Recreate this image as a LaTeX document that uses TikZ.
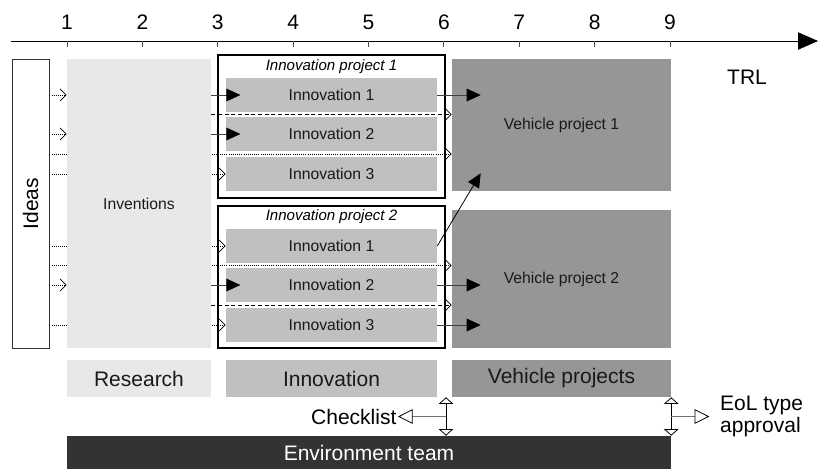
\documentclass[tikz,border=0pt]{standalone}
\usepackage{fontspec}
\setmainfont{Liberation Sans}
\usepackage{tikz}
\usetikzlibrary{arrows.meta, positioning, calc}
\definecolor{resgray}{HTML}{E8E8E8}
\definecolor{inngray}{HTML}{C0C0C0}
\definecolor{vehgray}{HTML}{969696}
\definecolor{envgray}{HTML}{333333}
\tikzset{
  small/.style = {font=\fontsize{11.8}{14}\selectfont},
  big/.style = {font=\fontsize{15.75}{16.5}\selectfont},
  block/.style = {rectangle, inner sep=0pt, align=center, text=black!90},
  innbox/.style = {block, small, fill=inngray,
    minimum width=158.25pt, minimum height=25.5pt},
  vehbox/.style = {block, small, fill=vehgray, minimum width=164.25pt},
  projframe/.style = {rectangle, draw=black, line width=1.5pt,
    minimum width=170.25pt, minimum height=107pt, inner sep=0pt},
  ptitle/.style = {font=\fontsize{11.3}{13}\selectfont\itshape, inner sep=0pt},
  phase/.style = {block, big, minimum height=27.75pt},
  barb/.style = {-{Straight Barb[length=4.5pt, width=9pt]}},
  dotline/.style = {densely dotted, line width=0.6pt, barb},
  dashline/.style = {dash pattern=on 3pt off 2pt, line width=0.6pt, barb},
  push/.style = {line width=0.6pt, draw=black!75,
    -{Triangle[length=10.5pt, width=9.5pt, color=black]}},
  dblarrow/.style = {line width=0.6pt,
    {Triangle[open, length=5pt, width=11pt]}-{Triangle[open, length=5pt, width=11pt]}},
  sidearrow/.style = {line width=0.6pt, draw=black!55,
    -{Triangle[open, length=11pt, width=11pt, color=black]}}
}

\begin{document}
\begin{tikzpicture}[x=0.75pt, y=-0.75pt]
\useasboundingbox (0,0) rectangle (818,469);

% TRL axis
\coordinate (ax0) at (11,41);
\coordinate (ax1) at (818,41);
\draw[line width=0.6pt, -{Triangle[length=15pt, width=13pt]}] (ax0) -- (ax1);
\foreach \n in {1,...,9}{
  \pgfmathsetmacro\tx{67+75.375*(\n-1)}
  \draw[line width=0.6pt, black!70] (\tx,41) -- (\tx,46.5);
  \node[big] (lvl\n) at (\tx,22) {\n};
}
\node[big] (trl) at (747,77) {TRL};

\node[block, draw=black!80, line width=0.6pt, fill=white,
  minimum width=27.75pt, minimum height=216.75pt] (ideas) at (30.5,203.5) {};
\node[big, rotate=90] (ideastext) at (ideas.center) {Ideas};

\node[projframe] (f1) at (331.5,126.5) {};
\node[projframe] (f2) at (331.5,277) {};
\node[ptitle] (t1) at ($(f1.north)+(0,-9pt)$) {Innovation project 1};
\node[ptitle] (t2) at ($(f2.north)+(0,-9pt)$) {Innovation project 2};

\node[innbox] (i11) at (331.5,95) {Innovation 1};
\node[innbox] (i12) at (331.5,134) {Innovation 2};
\node[innbox] (i13) at (331.5,174) {Innovation 3};
\node[innbox] (i21) at (331.5,246) {Innovation 1};
\node[innbox] (i22) at (331.5,285) {Innovation 2};
\node[innbox] (i23) at (331.5,325) {Innovation 3};

\node[vehbox, minimum height=99pt] (v1) at (561.5,125) {Vehicle project 1};
\node[vehbox, minimum height=103.5pt] (v2) at (561.5,279) {Vehicle project 2};

\coordinate (g11) at ($(i11.south)!.5!(i12.north)$);
\coordinate (g12) at ($(i12.south)!.5!(i13.north)$);
\coordinate (g21) at ($(i21.south)!.5!(i22.north)$);
\coordinate (g22) at ($(i22.south)!.5!(i23.north)$);

% lines running behind the inventions
\draw[dotline] (ideas.east |- g12) -- (v1.west |- g12);
\draw[dotline] (ideas.east |- i13) -- (i13.west);
\draw[dotline] (ideas.east |- i21) -- (i21.west);
\draw[dotline] (ideas.east |- g21) -- (v2.west |- g21);
\draw[dotline] (ideas.east |- i23) -- (i23.west);

\node[block, small, fill=resgray, minimum width=108pt,
  minimum height=216.75pt] (inv) at (139,203.5) {Inventions};

\draw[dotline] (ideas.east |- i11) -- (inv.west |- i11);
\draw[dotline] (ideas.east |- i12) -- (inv.west |- i12);
\draw[dotline] (ideas.east |- i22) -- (inv.west |- i22);

\draw[push] (inv.east |- i11) -- ($(i11.west)+(11pt,0)$);
\draw[push] (inv.east |- i12) -- ($(i12.west)+(11pt,0)$);
\draw[push] (inv.east |- i22) -- ($(i22.west)+(11pt,0)$);
\draw[dashline] (inv.east |- g11) -- (v1.west |- g11);
\draw[dashline] (inv.east |- g22) -- (v2.west |- g22);

\draw[push] (i11.east) -- ($(v1.west |- i11)+(21.75pt,0)$);
\draw[push, draw=black] (i21.east) -- ($(v1.south west)+(21.75pt,13.5pt)$);
\draw[push] (i22.east) -- ($(v2.west |- i22)+(21.75pt,0)$);
\draw[push] (i23.east) -- ($(v2.west |- i23)+(21.75pt,0)$);

% phases
\node[phase, fill=resgray, minimum width=108pt] (lbres) at (139,378.5) {Research};
\node[phase, fill=inngray, minimum width=158.25pt] (lbinn) at (331.5,378.5) {Innovation};
\node[phase, fill=vehgray, minimum width=164.25pt] (lbveh) at (561.5,378.5) {Vehicle projects};
\node[block, big, text=white, fill=envgray, minimum width=453pt,
  minimum height=24.75pt] (env) at (369,452.5) {Environment team};

\draw[dblarrow] (f2.east |- lbinn.south) -- (f2.east |- env.north);
\draw[dblarrow] (lbveh.south east) -- (env.north east);
\coordinate (ck) at ($(f2.east |- lbinn.south)!.5!(f2.east |- env.north)$);
\coordinate (eol) at ($(lbveh.south east)!.5!(env.north east)$);
\node[big, left=36pt of ck, inner sep=1pt] (cktext) {Checklist};
\node[big, right=28.5pt of eol, inner xsep=8pt, inner ysep=0pt,
  align=left] (eoltext) {EoL type\\approval};
\draw[sidearrow] (ck) -- (cktext.east);
\draw[sidearrow] (eol) -- (eoltext.west);
\end{tikzpicture}
\end{document}
